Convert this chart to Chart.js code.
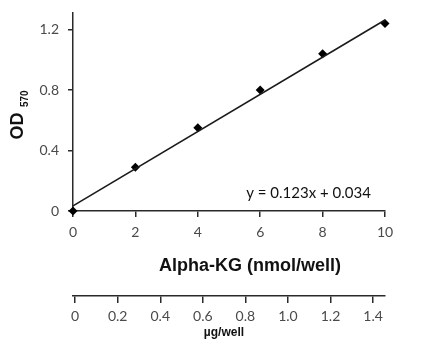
<!DOCTYPE html>
<html>
<head>
<meta charset="utf-8">
<script src="https://cdn.jsdelivr.net/npm/chart.js@4.4.0/dist/chart.umd.min.js"></script>
<style>
  html, body { margin: 0; padding: 0; background: #fff; }
</style>
</head>
<body>
<canvas id="chart" width="427" height="352"></canvas>
<script>
// standard curve: Alpha-KG amount vs OD570
const amounts = [0, 2, 4, 6, 8, 10];          // nmol/well
const odValues = [0, 0.29, 0.55, 0.80, 1.04, 1.24];
const fitX = [0, 10];
const fitY = [0.034, 1.264];
const xTicks = [0, 2, 4, 6, 8, 10];
const yTicks = [0, 0.4, 0.8, 1.2];
const massTicks = [0, 0.2, 0.4, 0.6, 0.8, 1, 1.2, 1.4];  // µg/well
const equation = 'y = 0.123x + 0.034';

const tickFont = { family: 'Lato', size: 14 };
const tickColor = '#4a4a4a';
const axisColor = '#2a2a2a';

const fixedTicks = (values) => (scale) => {
  scale.ticks = values.map((value) => ({ value }));
};

// fixed box sizes, no extra label padding
const fixHeight = (h) => (scale) => {
  scale.height = h;
  scale.paddingLeft = 0;
  scale.paddingRight = 0;
};
const fixWidth = (w) => (scale) => {
  scale.width = w;
  scale.paddingTop = 0;
  scale.paddingBottom = 0;
};

const annotations = {
  id: 'annotations',
  afterDraw(chart) {
    const { ctx, scales } = chart;
    ctx.save();
    ctx.fillStyle = '#111';
    ctx.textBaseline = 'middle';

    // fit equation
    ctx.font = '15px Lato';
    ctx.textAlign = 'center';
    ctx.fillText(equation, scales.x.getPixelForValue(7.55), scales.y.getPixelForValue(0.12));

    // x titles
    ctx.font = 'bold 18px "Liberation Sans", Arial';
    ctx.fillText('Alpha-KG (nmol/well)', 250, 266);
    ctx.font = 'bold 12px "Liberation Sans", Arial';
    ctx.fillText('µg/well', 224, 333);

    // y title with subscript
    ctx.translate(18, 126);
    ctx.rotate(-Math.PI / 2);
    ctx.font = 'bold 18px "Liberation Sans", Arial';
    ctx.textAlign = 'center';
    ctx.fillText('OD', 0, 0);
    ctx.font = 'bold 10px "Liberation Sans", Arial';
    ctx.textAlign = 'left';
    ctx.fillText('570', 19, 7);
    ctx.restore();
  },
};

new Chart(document.getElementById('chart'), {
  type: 'scatter',
  data: {
    datasets: [
      {
        type: 'line',
        data: fitX.map((x, i) => ({ x, y: fitY[i] })),
        borderColor: '#1a1a1a',
        borderWidth: 1.6,
        pointRadius: 0,
        fill: false,
        clip: false,
      },
      {
        data: amounts.map((x, i) => ({ x, y: odValues[i] })),
        pointStyle: 'rectRot',
        pointRadius: 4.5,
        backgroundColor: '#000',
        borderColor: '#000',
        borderWidth: 0,
        clip: false,
      },
    ],
  },
  options: {
    responsive: false,
    animation: false,
    layout: { autoPadding: false, padding: { top: 13, right: 42, bottom: 0, left: 0 } },
    plugins: { legend: { display: false }, tooltip: { enabled: false } },
    scales: {
      x: {
        type: 'linear',
        position: 'bottom',
        min: 0,
        max: 10,
        afterBuildTicks: fixedTicks(xTicks),
        afterFit: fixHeight(85),
        grid: { drawOnChartArea: false, tickLength: 6, color: axisColor, lineWidth: 1.5 },
        border: { color: axisColor, width: 1.5 },
        ticks: { font: tickFont, color: tickColor, padding: 7 },
      },
      x2: {
        type: 'linear',
        position: 'bottom',
        weight: 1,
        min: -0.01,
        max: 1.456,
        afterBuildTicks: fixedTicks(massTicks),
        afterFit: fixHeight(56),
        grid: { drawOnChartArea: false, tickLength: 7, color: axisColor, lineWidth: 1.5 },
        border: { color: axisColor, width: 1.5 },
        ticks: { font: tickFont, color: tickColor, padding: 5 },
      },
      y: {
        type: 'linear',
        min: 0,
        max: 1.31,
        afterBuildTicks: fixedTicks(yTicks),
        afterFit: fixWidth(73),
        grid: { drawOnChartArea: false, tickLength: 5, color: axisColor, lineWidth: 1.5 },
        border: { color: axisColor, width: 1.5 },
        ticks: { font: tickFont, color: tickColor, padding: 9 },
      },
    },
  },
  plugins: [annotations],
});
</script>
</body>
</html>
